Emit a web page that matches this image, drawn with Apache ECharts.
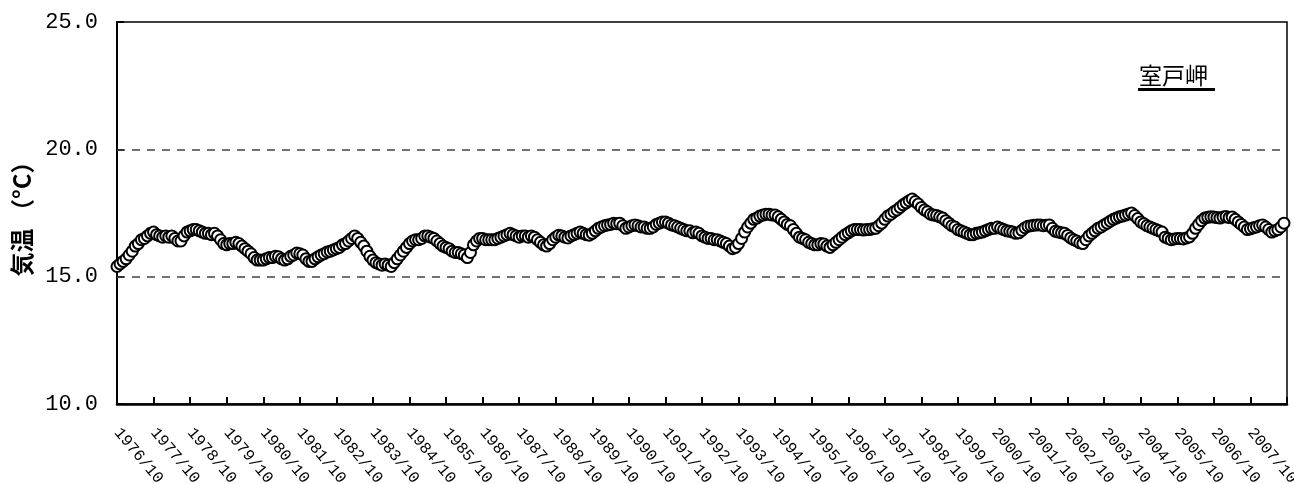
<!DOCTYPE html>
<html>
<head>
<meta charset="utf-8">
<script src="https://cdn.jsdelivr.net/npm/echarts@6/dist/echarts.min.js"></script>
<style>
  html, body { margin: 0; padding: 0; background: #fff; }
  #chart { width: 1294px; height: 484px; }
</style>
</head>
<body>
<div id="chart"></div>
<script>
// Muroto (室戸岬) air temperature, monthly values, one array per year starting each October
const y1976 = [15.40, 15.50, 15.60, 15.70, 15.85, 16.00, 16.20, 16.30, 16.45, 16.50, 16.60, 16.70];
const y1977 = [16.75, 16.65, 16.60, 16.55, 16.60, 16.55, 16.60, 16.50, 16.40, 16.40, 16.60, 16.75];
const y1978 = [16.80, 16.85, 16.85, 16.80, 16.75, 16.70, 16.70, 16.65, 16.70, 16.60, 16.45, 16.30];
const y1979 = [16.25, 16.30, 16.30, 16.35, 16.30, 16.20, 16.10, 16.00, 15.90, 15.75, 15.65, 15.65];
const y1980 = [15.65, 15.70, 15.75, 15.75, 15.80, 15.78, 15.70, 15.65, 15.70, 15.80, 15.85, 15.93];
const y1981 = [15.90, 15.85, 15.70, 15.60, 15.60, 15.70, 15.78, 15.85, 15.90, 15.97, 16.00, 16.05];
const y1982 = [16.10, 16.15, 16.25, 16.30, 16.40, 16.50, 16.60, 16.50, 16.35, 16.20, 16.00, 15.80];
const y1983 = [15.65, 15.55, 15.50, 15.45, 15.50, 15.45, 15.40, 15.55, 15.70, 15.85, 16.00, 16.15];
const y1984 = [16.30, 16.40, 16.45, 16.45, 16.50, 16.60, 16.60, 16.55, 16.50, 16.40, 16.30, 16.20];
const y1985 = [16.15, 16.10, 16.00, 15.95, 15.95, 15.90, 15.85, 15.75, 15.95, 16.25, 16.40, 16.50];
const y1986 = [16.50, 16.45, 16.45, 16.45, 16.45, 16.50, 16.55, 16.60, 16.65, 16.70, 16.65, 16.60];
const y1987 = [16.55, 16.60, 16.60, 16.55, 16.60, 16.55, 16.45, 16.35, 16.25, 16.20, 16.30, 16.45];
const y1988 = [16.55, 16.63, 16.60, 16.55, 16.52, 16.60, 16.65, 16.70, 16.75, 16.70, 16.65, 16.63];
const y1989 = [16.70, 16.80, 16.90, 16.95, 17.00, 17.03, 17.05, 17.10, 17.08, 17.10, 17.00, 16.90];
const y1990 = [16.95, 17.00, 17.03, 17.00, 16.95, 16.95, 16.90, 16.90, 16.95, 17.05, 17.10, 17.15];
const y1991 = [17.15, 17.10, 17.03, 17.00, 16.95, 16.90, 16.85, 16.80, 16.80, 16.72, 16.75, 16.70];
const y1992 = [16.60, 16.55, 16.50, 16.50, 16.45, 16.45, 16.40, 16.35, 16.30, 16.20, 16.10, 16.15];
const y1993 = [16.30, 16.50, 16.75, 16.95, 17.10, 17.25, 17.30, 17.38, 17.42, 17.45, 17.45, 17.42];
const y1994 = [17.42, 17.35, 17.25, 17.15, 17.05, 17.00, 16.85, 16.70, 16.55, 16.50, 16.45, 16.35];
const y1995 = [16.30, 16.25, 16.25, 16.30, 16.28, 16.20, 16.15, 16.25, 16.35, 16.45, 16.55, 16.65];
const y1996 = [16.72, 16.80, 16.85, 16.85, 16.85, 16.83, 16.85, 16.85, 16.88, 16.90, 17.00, 17.10];
const y1997 = [17.25, 17.38, 17.45, 17.55, 17.62, 17.72, 17.82, 17.90, 17.98, 18.05, 17.95, 17.85];
const y1998 = [17.72, 17.62, 17.55, 17.45, 17.42, 17.40, 17.35, 17.30, 17.20, 17.10, 17.00, 16.95];
const y1999 = [16.85, 16.80, 16.75, 16.70, 16.65, 16.65, 16.70, 16.72, 16.75, 16.80, 16.85, 16.90];
const y2000 = [16.90, 16.95, 16.90, 16.85, 16.80, 16.78, 16.75, 16.70, 16.72, 16.82, 16.92, 16.98];
const y2001 = [17.00, 17.02, 17.03, 17.03, 17.00, 17.02, 17.03, 16.90, 16.78, 16.75, 16.72, 16.70];
const y2002 = [16.62, 16.52, 16.45, 16.40, 16.33, 16.30, 16.45, 16.60, 16.70, 16.80, 16.90, 16.95];
const y2003 = [17.03, 17.10, 17.18, 17.25, 17.30, 17.35, 17.38, 17.42, 17.46, 17.50, 17.40, 17.28];
const y2004 = [17.15, 17.08, 17.00, 16.95, 16.90, 16.85, 16.80, 16.75, 16.55, 16.50, 16.45, 16.48];
const y2005 = [16.50, 16.50, 16.48, 16.52, 16.56, 16.70, 16.90, 17.05, 17.20, 17.30, 17.33, 17.35];
const y2006 = [17.34, 17.32, 17.30, 17.34, 17.36, 17.32, 17.34, 17.25, 17.15, 17.05, 16.95, 16.85];
const y2007 = [16.88, 16.92, 16.95, 17.00, 17.03, 16.95, 16.85, 16.75, 16.80, 16.85, 16.95, 17.10];

const temperature = [].concat(
  y1976, y1977, y1978, y1979, y1980, y1981, y1982, y1983,
  y1984, y1985, y1986, y1987, y1988, y1989, y1990, y1991,
  y1992, y1993, y1994, y1995, y1996, y1997, y1998, y1999,
  y2000, y2001, y2002, y2003, y2004, y2005, y2006, y2007
);

// Month categories "YYYY/M" from 1976/10 through 2008/10 (the last one closes the axis)
const startYear = 1976, startMonth = 10, monthCount = 385;
const categories = [];
for (let k = 0; k < monthCount; k++) {
  const m = startMonth - 1 + k;
  categories.push((startYear + Math.floor(m / 12)) + '/' + (m % 12 + 1));
}

const yTicks = { min: 10, max: 25, step: 5 };
const refLines = [15, 20];
const stationName = '室戸岬';
const yAxisTitle = '気温 （°C）';

const numFont = '"Liberation Mono", "DejaVu Sans Mono", monospace';
const jpFont = '"Noto Sans CJK JP", sans-serif';

const chart = echarts.init(document.getElementById('chart'), null, { renderer: 'canvas' });
chart.setOption({
  animation: false,
  backgroundColor: '#fff',
  grid: {
    left: 117, right: 7, top: 22, bottom: 80,
    outerBoundsMode: 'none',
    containLabel: false,
    show: true, borderColor: '#000', borderWidth: 1.5, backgroundColor: 'transparent'
  },
  xAxis: {
    type: 'category',
    data: categories,
    boundaryGap: false,
    axisLine: { lineStyle: { color: '#000', width: 2.5 } },
    axisTick: {
      inside: true, length: 7,
      interval: function (i) { return i % 12 === 0; },
      lineStyle: { color: '#000', width: 2 }
    },
    axisLabel: {
      interval: function (i) { return i % 12 === 0 && i < monthCount - 1; },
      rotate: -50,
      margin: 26,
      color: '#000',
      fontFamily: numFont,
      fontSize: 16
    },
    splitLine: { show: false }
  },
  yAxis: {
    type: 'value',
    min: yTicks.min, max: yTicks.max, interval: yTicks.step,
    name: yAxisTitle,
    nameLocation: 'middle',
    nameRotate: 90,
    nameGap: 82,
    nameTextStyle: { color: '#000', fontFamily: jpFont, fontSize: 24, fontWeight: 'bold' },
    axisLine: { show: true, lineStyle: { color: '#000', width: 2 } },
    axisTick: { show: true, inside: true, length: 7, lineStyle: { color: '#000', width: 2 } },
    axisLabel: {
      margin: 19,
      color: '#000',
      fontFamily: numFont,
      fontSize: 22,
      formatter: function (v) { return v.toFixed(1); }
    },
    splitLine: { show: false }
  },
  series: [{
    type: 'scatter',
    name: stationName,
    data: temperature,
    symbol: 'circle',
    symbolSize: 11,
    itemStyle: { color: '#fff', borderColor: '#000', borderWidth: 2, opacity: 1 },
    markLine: {
      silent: true,
      symbol: ['none', 'none'],
      label: { show: false },
      lineStyle: { color: '#444', width: 1.5, type: [8, 7] },
      data: refLines.map(function (v) { return { yAxis: v }; }),
      z: 1
    },
    z: 3
  }],
  graphic: [{
    type: 'group',
    left: 1138, top: 64,
    children: [
      {
        type: 'text', x: 1, y: 0,
        style: { text: stationName, font: '23px ' + jpFont, fill: '#000' }
      },
      {
        type: 'rect', shape: { x: 0, y: 24, width: 77, height: 3 },
        style: { fill: '#000' }
      }
    ]
  }]
});
</script>
</body>
</html>
